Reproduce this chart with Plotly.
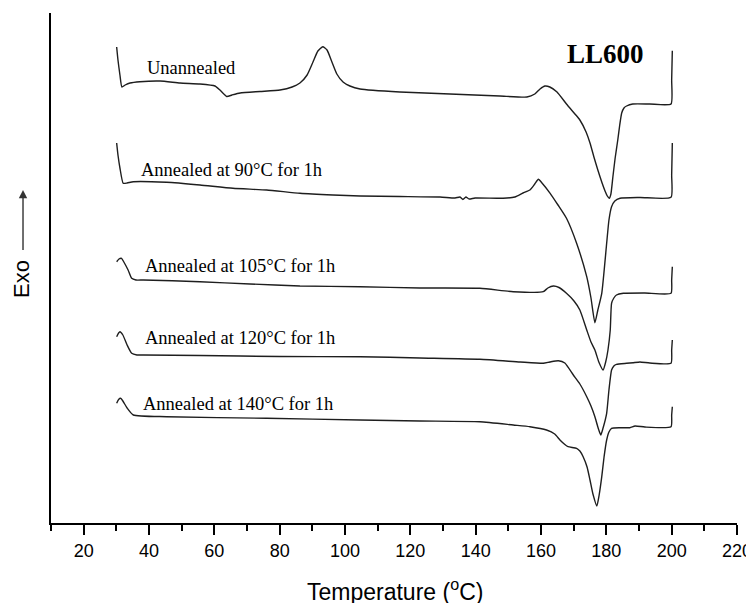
import plotly.graph_objects as go

# Temperature (°C) and heat-flow (arbitrary units)
t_un = [30.1, 30.5, 31.1, 31.7, 32.7, 34.2, 37.2, 43.4, 49.5, 55.6, 60.2, 61.7, 63.8, 65.4, 67.9,
        74.0, 80.1, 83.8, 86.2, 88.4, 90.2, 91.7, 93.2, 94.5, 96.0, 97.5, 99.4, 101.5, 104.6,
        116.8, 132.1, 147.4, 155.7, 158.1, 159.7, 161.2, 162.7, 164.9, 167.8, 170.4, 171.9,
        173.8, 175.0, 176.2, 177.4, 178.7, 179.6, 180.3, 180.9, 181.4, 182.0, 182.7, 183.5,
        184.1, 184.7, 185.4, 186.2, 188.1, 193.3, 199.8, 200.0, 200.2]
h_un = [476, 463, 448, 436, 438, 440, 441.3, 442, 440, 439, 437, 433, 426.5, 428, 430,
        431.5, 433, 436, 440, 448, 461, 472, 476.3, 473, 461, 449, 441, 437, 434,
        431, 429, 427, 426, 429, 434, 437, 436, 431, 419, 409, 403,
        391, 380, 366, 353, 340, 332, 327, 324.7, 329, 346, 365, 383,
        398, 410, 415, 417, 419, 419, 419, 443, 472.3]

t_90 = [30.1, 30.5, 31.1, 32.1, 33.3, 35.2, 45.4, 55.6, 65.7, 76.0, 86.2, 96.3, 104.6, 116.8,
        129.1, 133.7, 135.2, 136.1, 137.0, 138.0, 139.8, 148.4, 152.0, 154.5, 156.6, 158.1,
        159.2, 160.3, 162.8, 165.2, 167.8, 170.9, 174.0, 175.3, 176.5, 177.4, 178.6, 180.1,
        180.8, 181.6, 182.6, 184.2, 190.3, 199.8, 200.0, 200.2]
h_90 = [380, 368, 355, 339.7, 340, 341.3, 340.7, 338, 334.7, 333, 329.7, 328, 327, 326.5,
        326, 325, 326, 323.5, 326, 324, 325, 324.7, 326, 330, 333, 339,
        343.7, 340, 329.7, 318, 304.7, 279.7, 246.3, 225, 200.3, 213, 229.7, 279.7,
        303, 316.3, 322, 324.7, 325.5, 325.7, 348, 380]

t_105 = [30.1, 30.8, 31.6, 32.3, 33.6, 34.7, 36.0, 38.3, 55.6, 70.9, 86.2, 104.6, 122.9, 141.3,
         151.5, 160.7, 162.1, 163.8, 165.5, 167.8, 170.1, 171.9, 174.0, 175.3, 176.5, 177.7,
         179.0, 179.8, 180.5, 181.2, 181.6, 182.3, 183.1, 185.2, 191.8, 199.8, 200.0, 200.2]
h_105 = [261.3, 264, 264.7, 261, 253, 244.7, 243, 243, 241.3, 239, 237, 236.3, 235, 234.7,
         231.3, 231.3, 235, 237, 235.5, 229.7, 222, 213, 193, 181, 173, 161,
         153, 161, 173, 193, 219.7, 225, 228, 229.7, 230, 229.7, 243, 256.3]

t_120 = [30.1, 30.7, 31.1, 32.0, 33.3, 34.7, 36.3, 38.3, 55.6, 80.1, 104.6, 122.9, 141.3, 153.6,
         160.7, 162.7, 165.3, 167.3, 169.9, 171.9, 174.0, 175.3, 176.5, 177.4, 178.3, 179.0,
         180.1, 180.8, 181.6, 182.3, 183.1, 186.2, 188.2, 190.3, 193.3, 199.8, 200.0, 200.2]
h_120 = [186.3, 190, 191.3, 188, 178, 169.7, 168, 168, 167.5, 166.5, 166.3, 165, 163.7, 161,
         159.7, 161, 162.3, 160, 148, 139, 126.3, 117, 106.3, 96, 88, 95,
         109.7, 133, 153, 157, 158.7, 159.7, 160.3, 161, 160, 159.7, 173, 183]

t_140 = [30.1, 30.7, 31.3, 32.0, 33.3, 35.2, 45.4, 76.0, 104.6, 122.9, 141.3, 151.5, 156.6,
         161.7, 164.2, 165.8, 167.3, 168.3, 170.9, 171.9, 172.9, 174.1, 175.0, 175.9, 177.1,
         177.8, 178.6, 179.3, 180.1, 180.8, 181.6, 184.2, 187.2, 188.8, 191.8, 199.8, 200.0, 200.2]
h_140 = [119.7, 123.5, 124.7, 122, 115, 108, 106.3, 104.7, 103, 102, 101.3, 98, 96.3,
         93, 89, 83, 78.5, 76.3, 74.7, 72, 66.3, 56, 43, 29, 17,
         28, 46.3, 66, 83, 91, 94.7, 95.3, 95.3, 97, 96, 96.3, 108, 116.3]

labels = ["Unannealed", "Annealed at 90°C for 1h", "Annealed at 105°C for 1h",
          "Annealed at 120°C for 1h", "Annealed at 140°C for 1h"]
label_t = [38.8, 37.0, 38.3, 38.3, 37.5]
label_h = [454.7, 353, 257, 184.7, 118.7]

x_ticks = list(range(20, 221, 20))

series = [(t_un, h_un), (t_90, h_90), (t_105, h_105), (t_120, h_120), (t_140, h_140)]

fig = go.Figure()
for (tx, hy), name in zip(series, labels):
    fig.add_trace(go.Scatter(x=tx, y=hy, mode="lines", name=name,
                             line=dict(color="#1e1e1e", width=1.4, shape="spline",
                                       smoothing=0.5),
                             showlegend=False))

for txt, tx, hy in zip(labels, label_t, label_h):
    fig.add_annotation(x=tx, y=hy, xref="x", yref="y", text=txt, showarrow=False,
                       xanchor="left", yanchor="middle",
                       font=dict(family="Liberation Serif", size=18.5, color="black"))

fig.add_annotation(x=167.3, y=469, xref="x", yref="y", text="<b>LL600</b>", showarrow=False,
                   xanchor="left", yanchor="middle",
                   font=dict(family="Liberation Serif", size=27, color="black"))

# axis titles
fig.add_annotation(x=0.5015, y=-0.131, xref="paper", yref="paper",
                   text="Temperature (<sup>o</sup>C)", showarrow=False,
                   xanchor="center", yanchor="middle",
                   font=dict(family="Liberation Sans", size=23, color="black"))
fig.add_annotation(x=-0.042, y=0.479, xref="paper", yref="paper", text="Exo",
                   showarrow=False, textangle=-90, xanchor="center", yanchor="middle",
                   font=dict(family="Liberation Sans", size=22, color="black"))
fig.add_annotation(x=-0.0408, y=0.653, xref="paper", yref="paper", text=" ",
                   showarrow=True, ax=0, ay=62, arrowhead=2, arrowsize=1.2,
                   arrowwidth=1.4, arrowcolor="#333333", font=dict(size=1))

fig.update_layout(
    width=754, height=603,
    margin=dict(l=43, r=25, t=5, b=88, autoexpand=False),
    paper_bgcolor="white", plot_bgcolor="white",
    xaxis=dict(range=[10, 220], tickvals=x_ticks, ticks="outside", ticklen=10, tickwidth=2,
               tickcolor="black", showline=True, linewidth=2, linecolor="black",
               showgrid=False, zeroline=False, automargin=False,
               tickfont=dict(family="Liberation Sans", size=18, color="black"),
               minor=dict(dtick=10, tick0=10, ticks="outside", ticklen=6, tickwidth=2,
                          tickcolor="black", showgrid=False)),
    yaxis=dict(range=[0, 510], showline=True, linewidth=2, linecolor="black",
               showticklabels=False, ticks="", showgrid=False, zeroline=False,
               automargin=False),
)

fig.write_html("out.html")
